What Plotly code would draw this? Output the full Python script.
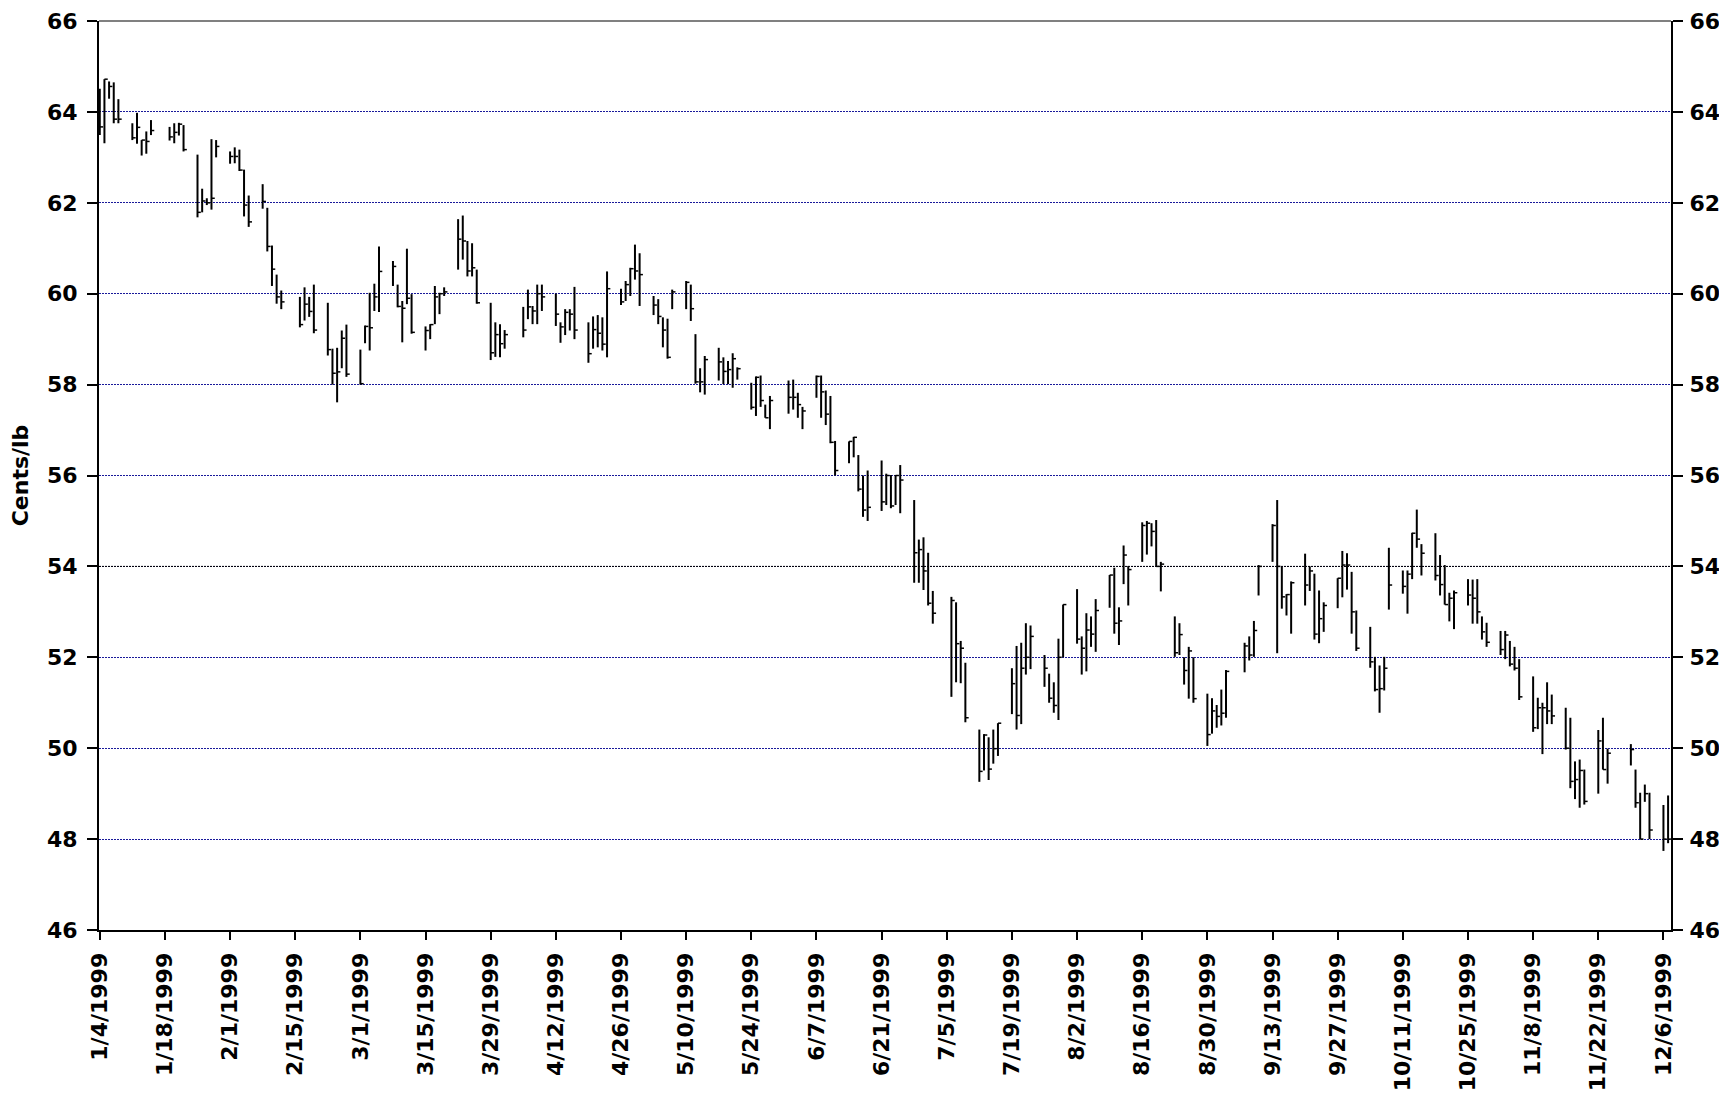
import plotly.graph_objects as go
import pandas as pd

dates = [
    "1999-01-04", "1999-01-05", "1999-01-06", "1999-01-07", "1999-01-08",
    "1999-01-11", "1999-01-12", "1999-01-13", "1999-01-14", "1999-01-15",
    "1999-01-19", "1999-01-20", "1999-01-21", "1999-01-22",
    "1999-01-25", "1999-01-26", "1999-01-27", "1999-01-28", "1999-01-29",
    "1999-02-01", "1999-02-02", "1999-02-03", "1999-02-04", "1999-02-05",
    "1999-02-08", "1999-02-09", "1999-02-10", "1999-02-11", "1999-02-12",
    "1999-02-16", "1999-02-17", "1999-02-18", "1999-02-19",
    "1999-02-22", "1999-02-23", "1999-02-24", "1999-02-25", "1999-02-26",
    "1999-03-01", "1999-03-02", "1999-03-03", "1999-03-04", "1999-03-05",
    "1999-03-08", "1999-03-09", "1999-03-10", "1999-03-11", "1999-03-12",
    "1999-03-15", "1999-03-16", "1999-03-17", "1999-03-18", "1999-03-19",
    "1999-03-22", "1999-03-23", "1999-03-24", "1999-03-25", "1999-03-26",
    "1999-03-29", "1999-03-30", "1999-03-31", "1999-04-01",
    "1999-04-05", "1999-04-06", "1999-04-07", "1999-04-08", "1999-04-09",
    "1999-04-12", "1999-04-13", "1999-04-14", "1999-04-15", "1999-04-16",
    "1999-04-19", "1999-04-20", "1999-04-21", "1999-04-22", "1999-04-23",
    "1999-04-26", "1999-04-27", "1999-04-28", "1999-04-29", "1999-04-30",
    "1999-05-03", "1999-05-04", "1999-05-05", "1999-05-06", "1999-05-07",
    "1999-05-10", "1999-05-11", "1999-05-12", "1999-05-13", "1999-05-14",
    "1999-05-17", "1999-05-18", "1999-05-19", "1999-05-20", "1999-05-21",
    "1999-05-24", "1999-05-25", "1999-05-26", "1999-05-27", "1999-05-28",
    "1999-06-01", "1999-06-02", "1999-06-03", "1999-06-04",
    "1999-06-07", "1999-06-08", "1999-06-09", "1999-06-10", "1999-06-11",
    "1999-06-14", "1999-06-15", "1999-06-16", "1999-06-17", "1999-06-18",
    "1999-06-21", "1999-06-22", "1999-06-23", "1999-06-24", "1999-06-25",
    "1999-06-28", "1999-06-29", "1999-06-30", "1999-07-01", "1999-07-02",
    "1999-07-06", "1999-07-07", "1999-07-08", "1999-07-09",
    "1999-07-12", "1999-07-13", "1999-07-14", "1999-07-15", "1999-07-16",
    "1999-07-19", "1999-07-20", "1999-07-21", "1999-07-22", "1999-07-23",
    "1999-07-26", "1999-07-27", "1999-07-28", "1999-07-29", "1999-07-30",
    "1999-08-02", "1999-08-03", "1999-08-04", "1999-08-05", "1999-08-06",
    "1999-08-09", "1999-08-10", "1999-08-11", "1999-08-12", "1999-08-13",
    "1999-08-16", "1999-08-17", "1999-08-18", "1999-08-19", "1999-08-20",
    "1999-08-23", "1999-08-24", "1999-08-25", "1999-08-26", "1999-08-27",
    "1999-08-30", "1999-08-31", "1999-09-01", "1999-09-02", "1999-09-03",
    "1999-09-07", "1999-09-08", "1999-09-09", "1999-09-10",
    "1999-09-13", "1999-09-14", "1999-09-15", "1999-09-16", "1999-09-17",
    "1999-09-20", "1999-09-21", "1999-09-22", "1999-09-23", "1999-09-24",
    "1999-09-27", "1999-09-28", "1999-09-29", "1999-09-30", "1999-10-01",
    "1999-10-04", "1999-10-05", "1999-10-06", "1999-10-07", "1999-10-08",
    "1999-10-11", "1999-10-12", "1999-10-13", "1999-10-14", "1999-10-15",
    "1999-10-18", "1999-10-19", "1999-10-20", "1999-10-21", "1999-10-22",
    "1999-10-25", "1999-10-26", "1999-10-27", "1999-10-28", "1999-10-29",
    "1999-11-01", "1999-11-02", "1999-11-03", "1999-11-04", "1999-11-05",
    "1999-11-08", "1999-11-09", "1999-11-10", "1999-11-11", "1999-11-12",
    "1999-11-15", "1999-11-16", "1999-11-17", "1999-11-18", "1999-11-19",
    "1999-11-22", "1999-11-23", "1999-11-24",
    "1999-11-29", "1999-11-30", "1999-12-01", "1999-12-02", "1999-12-03",
    "1999-12-06", "1999-12-07",
]

high = [
    64.51, 64.72, 64.67, 64.65, 64.28,
    63.75, 63.98, 63.38, 63.57, 63.82,
    63.67, 63.75, 63.76, 63.71,
    63.06, 62.31, 62.10, 63.40, 63.38,
    63.13, 63.22, 63.17, 62.73, 62.16,
    62.41, 61.89, 61.06, 60.42, 60.07,
    59.93, 60.14, 59.93, 60.20,
    59.80, 58.79, 58.81, 59.19, 59.32,
    58.77, 59.30, 60.02, 60.22, 61.04,
    60.72, 60.20, 59.84, 60.99, 59.99,
    59.28, 59.33, 60.17, 60.02, 60.14,
    61.64, 61.72, 61.16, 61.11, 60.53,
    59.80, 59.37, 59.33, 59.20,
    59.71, 60.09, 59.73, 60.20, 60.20,
    60.00, 59.37, 59.66, 59.66, 60.15,
    59.37, 59.50, 59.53, 59.48, 60.49,
    60.11, 60.28, 60.57, 61.08, 60.89,
    59.95, 59.88, 59.48, 59.45, 60.09,
    60.28, 60.20, 59.11, 58.36, 58.63,
    58.81, 58.60, 58.52, 58.69, 58.38,
    58.04, 58.18, 58.20, 57.56, 57.75,
    58.09, 58.11, 57.82, 57.51,
    58.20, 58.20, 57.87, 57.75, 56.76,
    56.75, 56.85, 56.45, 56.00, 56.11,
    56.33, 56.04, 56.01, 56.01, 56.23,
    55.46, 54.59, 54.64, 54.30, 53.46,
    53.33, 53.21, 52.36, 51.88,
    50.41, 50.31, 50.24, 50.41, 50.55,
    51.76, 52.25, 52.32, 52.75, 52.70,
    52.05, 51.64, 51.45, 52.41, 53.16,
    53.50, 52.46, 52.97, 52.90, 53.28,
    53.81, 53.97, 53.10, 54.46, 54.01,
    54.97, 55.00, 54.95, 55.02, 54.10,
    52.90, 52.75, 52.00, 52.23, 52.00,
    51.20, 51.10, 50.95, 51.29, 51.72,
    52.32, 52.46, 52.80, 54.03,
    54.93, 55.46, 53.99, 53.39, 53.67,
    54.28, 54.00, 53.84, 53.47, 53.21,
    53.74, 54.34, 54.29, 53.88, 53.03,
    52.67, 52.01, 51.82, 52.01, 54.41,
    53.91, 53.91, 54.74, 55.25, 54.49,
    54.73, 54.25, 54.03, 53.42, 53.47,
    53.72, 53.71, 53.72, 52.90, 52.76,
    52.58, 52.58, 52.36, 52.23, 51.96,
    51.58, 51.11, 51.00, 51.45, 51.18,
    50.89, 50.67, 49.71, 49.75, 49.53,
    50.40, 50.67, 49.99,
    50.09, 49.53, 49.02, 49.20, 49.02,
    48.75, 48.96,
]

low = [
    63.49, 63.31, 64.29, 63.75, 63.75,
    63.38, 63.30, 63.04, 63.08, 63.49,
    63.37, 63.31, 63.48, 63.13,
    61.68, 61.79, 61.95, 61.85, 63.00,
    62.86, 62.87, 62.70, 61.70, 61.47,
    61.87, 60.93, 60.17, 59.78, 59.66,
    59.26, 59.41, 59.49, 59.13,
    58.64, 58.00, 57.61, 58.36, 58.17,
    58.00, 58.91, 58.75, 59.62, 59.60,
    60.17, 59.70, 58.93, 59.77, 59.12,
    58.75, 59.00, 59.33, 59.55, 59.95,
    60.53, 60.75, 60.38, 60.38, 59.78,
    58.54, 58.61, 58.60, 58.79,
    59.04, 59.44, 59.33, 59.33, 59.62,
    59.29, 58.92, 59.09, 59.19, 59.00,
    58.48, 58.79, 58.82, 58.75, 58.60,
    59.75, 59.84, 59.95, 60.31, 59.73,
    59.53, 59.33, 58.82, 58.57, 59.66,
    59.66, 59.40, 58.02, 57.83, 57.78,
    58.09, 58.01, 58.01, 57.93, 58.11,
    57.45, 57.31, 57.51, 57.27, 57.02,
    57.36, 57.45, 57.27, 57.02,
    57.71, 57.27, 57.11, 56.71, 56.00,
    56.27, 56.40, 55.65, 55.09, 55.00,
    55.22, 55.35, 55.28, 55.35, 55.17,
    53.64, 53.64, 53.48, 53.14, 52.74,
    51.13, 51.45, 51.43, 50.57,
    49.26, 49.51, 49.30, 49.66, 49.83,
    50.75, 50.41, 50.53, 51.62, 51.74,
    51.35, 51.00, 50.78, 50.62, 52.00,
    52.30, 51.62, 51.69, 52.23, 52.12,
    53.09, 52.52, 52.27, 53.61, 53.14,
    54.10, 54.26, 54.44, 54.00, 53.45,
    52.01, 52.05, 51.40, 51.09, 51.00,
    50.05, 50.32, 50.45, 50.50, 50.67,
    51.67, 51.93, 52.01, 53.36,
    54.10, 52.09, 53.07, 52.92, 52.52,
    53.14, 53.46, 52.39, 52.31, 52.56,
    53.08, 53.32, 53.49, 52.52, 52.14,
    51.77, 51.25, 50.78, 51.27, 53.05,
    53.40, 52.96, 53.72, 54.41, 53.80,
    53.69, 53.36, 53.16, 52.79, 52.62,
    53.14, 52.74, 52.74, 52.39, 52.23,
    52.05, 51.96, 51.80, 51.71, 51.06,
    50.36, 50.42, 49.87, 50.53, 50.53,
    49.97, 49.12, 48.88, 48.69, 48.76,
    49.00, 49.53, 49.22,
    49.62, 48.69, 48.00, 48.82, 48.00,
    47.74, 47.91,
]

close = [
    63.67, 64.72, 64.56, 63.84, 63.84,
    63.43, 63.66, 63.38, 63.35, 63.59,
    63.45, 63.55, 63.73, 63.17,
    61.79, 62.04, 62.00, 62.10, 63.24,
    63.02, 63.02, 62.72, 61.95, 61.58,
    62.03, 61.04, 60.54, 59.93, 59.82,
    59.32, 59.77, 59.61, 59.20,
    58.77, 58.25, 58.28, 59.02, 58.23,
    58.02, 59.28, 59.25, 59.93, 60.49,
    60.60, 59.72, 59.68, 59.90, 59.15,
    59.19, 59.32, 59.93, 60.00, 60.04,
    61.20, 61.16, 60.50, 60.57, 59.80,
    58.70, 59.10, 58.90, 59.10,
    59.20, 59.71, 59.62, 60.00, 59.93,
    59.55, 59.27, 59.59, 59.55, 59.20,
    58.68, 59.21, 59.13, 58.89, 60.11,
    59.82, 60.20, 60.55, 60.50, 60.42,
    59.75, 59.50, 59.20, 58.60, 60.04,
    60.25, 59.67, 58.06, 58.06, 58.55,
    58.50, 58.29, 58.33, 58.57, 58.35,
    57.50, 58.16, 57.65, 57.27, 57.65,
    57.72, 57.72, 57.56, 57.42,
    58.18, 57.84, 57.35, 56.73, 56.11,
    56.75, 56.84, 55.70, 55.24, 55.30,
    55.42, 56.00, 55.33, 56.00, 55.90,
    54.30, 54.37, 53.90, 53.19, 52.97,
    53.25, 52.30, 52.20, 50.67,
    49.49, 50.29, 49.54, 49.99, 50.55,
    51.42, 50.72, 51.76, 52.00, 52.46,
    51.76, 51.10, 50.94, 52.00, 53.16,
    52.40, 52.20, 52.60, 52.51, 53.03,
    53.81, 52.75, 52.80, 54.25, 53.93,
    54.90, 54.95, 54.77, 54.00, 54.05,
    52.10, 52.50, 51.71, 52.14, 51.09,
    50.30, 50.82, 50.70, 50.77, 51.69,
    52.25, 52.05, 52.59, 54.00,
    54.90, 54.00, 53.33, 53.38, 53.64,
    53.59, 53.90, 52.51, 52.85, 53.14,
    53.74, 54.03, 54.03, 53.00, 52.20,
    51.90, 51.29, 51.31, 51.76, 53.59,
    53.56, 53.83, 54.73, 54.60, 54.29,
    53.80, 53.60, 53.16, 53.30, 53.42,
    53.37, 53.30, 53.00, 52.56, 52.33,
    52.17, 52.49, 51.85, 51.76, 51.13,
    50.45, 50.89, 50.89, 50.82, 50.71,
    50.00, 49.27, 49.31, 49.51, 48.83,
    50.16, 49.53, 49.89,
    49.97, 48.80, 48.00, 49.00, 48.20,
    48.00, 48.00,
]

y_ticks = [46, 48, 50, 52, 54, 56, 58, 60, 62, 64, 66]
x_tick_start = "1999-01-04"
y_title = "Cents/lb"

FONT = "DejaVu Sans"
Y_TICK_FONT = dict(family=FONT, size=22, color="black", weight="bold")
X_TICK_FONT = dict(family=FONT, size=22, color="black", weight="bold")
dts = pd.to_datetime(dates)
tick_len = pd.Timedelta(hours=17)

bx, by, tx, ty = [], [], [], []
for d, h, l, c in zip(dts, high, low, close):
    bx += [d, d, None]
    by += [l, h, None]
    tx += [d, d + tick_len, None]
    ty += [c, c, None]

fig = go.Figure()
fig.add_trace(go.Scatter(x=bx, y=by, mode="lines", line=dict(color="black", width=2),
                         showlegend=False, hoverinfo="skip"))
fig.add_trace(go.Scatter(x=tx, y=ty, mode="lines", line=dict(color="black", width=1.5),
                         showlegend=False, hoverinfo="skip"))
fig.add_trace(go.Scatter(x=[dts[0]], y=[y_ticks[0]], yaxis="y2", mode="markers",
                         marker=dict(opacity=0), showlegend=False, hoverinfo="skip"))

x_start = dts[0] - pd.Timedelta(hours=4)
x_end = dts[-1] + pd.Timedelta(hours=15)

fig.update_layout(
    width=1711, height=1094,
    margin=dict(l=91, r=48, t=13, b=172, autoexpand=False),
    plot_bgcolor="white", paper_bgcolor="white",
    font=dict(family=FONT, color="black"),
    xaxis=dict(
        type="date", range=[x_start, x_end], automargin=False,
        tick0=x_tick_start, dtick=14 * 86400000, tickformat="%-m/%-d/%Y",
        tickangle=-90, ticks="outside", ticklen=8, tickwidth=2, tickcolor="black",
        showline=True, linecolor="black", linewidth=2, showgrid=False,
        tickfont=X_TICK_FONT, ticklabelstandoff=4, zeroline=False,
    ),
    yaxis=dict(
        range=[46, 66], tickvals=y_ticks, ticks="outside", ticklen=10, tickwidth=2,
        tickcolor="black", showline=True, linecolor="black", linewidth=2,
        showgrid=True, gridcolor="#1a1a9a", gridwidth=1, griddash="2px,1px",
        tickfont=Y_TICK_FONT, ticklabeloverflow="allow", ticklabelstandoff=5,
        automargin=False,
        title=dict(text=y_title, font=dict(family=FONT, size=22, color="black", weight="bold"),
                   standoff=24),
        zeroline=False,
    ),
    yaxis2=dict(
        range=[46, 66], tickvals=y_ticks, overlaying="y", side="right",
        ticks="outside", ticklen=10, tickwidth=2, tickcolor="black",
        showline=True, linecolor="black", linewidth=2, showgrid=False,
        tickfont=Y_TICK_FONT, ticklabeloverflow="allow", ticklabelstandoff=2,
        automargin=False, zeroline=False,
    ),
)
fig.add_hline(y=54, line=dict(color="black", width=1, dash="2px,1px"), layer="above")
fig.add_shape(type="line", xref="paper", yref="paper", x0=0, x1=1, y0=1, y1=1,
              line=dict(color="#808080", width=2))

fig.write_html("out.html")
